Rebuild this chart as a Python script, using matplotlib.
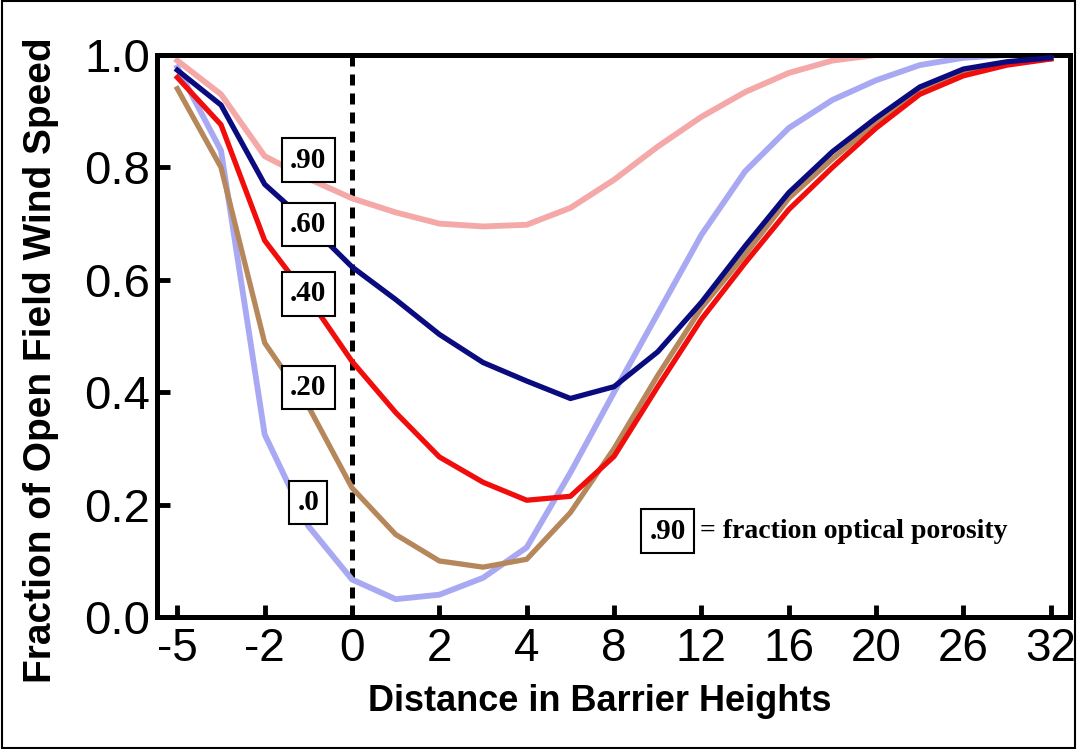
import numpy as np
import matplotlib
matplotlib.use("Agg")
import matplotlib.pyplot as plt
from matplotlib.patches import Rectangle

# distances (barrier heights) where the curves are sampled
distance = [-5, -3.5, -2, -1, 0, 1, 2, 3, 4, 6, 8, 10, 12, 14, 16, 18, 20, 23, 26, 29, 32]
tick_values = [-5, -2, 0, 2, 4, 8, 12, 16, 20, 26, 32]
tick_labels = ["-5", "-2", "0", "2", "4", "8", "12", "16", "20", "26", "32"]

# fraction of open field wind speed, one list per optical porosity
por_90 = [0.99, 0.93, 0.82, 0.78, 0.745, 0.72, 0.70, 0.695, 0.698, 0.728, 0.778,
          0.837, 0.89, 0.934, 0.968, 0.99, 1.0, 1.0, 1.0, 1.0, 1.0]
por_60 = [0.973, 0.911, 0.77, 0.70, 0.623, 0.565, 0.503, 0.453, 0.42, 0.389, 0.41,
          0.472, 0.56, 0.66, 0.755, 0.828, 0.888, 0.943, 0.975, 0.988, 0.995]
por_40 = [0.96, 0.876, 0.67, 0.568, 0.455, 0.364, 0.285, 0.24, 0.208, 0.215, 0.286,
          0.41, 0.53, 0.63, 0.725, 0.80, 0.87, 0.93, 0.963, 0.982, 0.993]
por_20 = [0.94, 0.80, 0.488, 0.375, 0.23, 0.147, 0.10, 0.089, 0.103, 0.186, 0.30,
          0.43, 0.55, 0.645, 0.745, 0.815, 0.88, 0.94, 0.97, 0.985, 0.993]
por_00 = [0.978, 0.83, 0.325, 0.162, 0.067, 0.032, 0.04, 0.07, 0.124, 0.257, 0.40,
          0.54, 0.68, 0.793, 0.87, 0.92, 0.955, 0.982, 0.995, 1.0, 1.0]

box_labels = [".90", ".60", ".40", ".20", ".0"]
box_y = [0.813, 0.698, 0.575, 0.409, 0.204]

# the x axis is not linear: each labelled distance gets one equal step
tick_pos = np.arange(len(tick_values))
xpos = np.interp(distance, tick_values, tick_pos)

fig = plt.figure(figsize=(10.77, 7.49), dpi=100)
ax = fig.add_axes([0.146, 0.176, 0.8475, 0.7506])

ax.plot(xpos, por_00, color="#a9a9f3", lw=4.2, solid_joinstyle="round", zorder=2)
ax.plot(xpos, por_90, color="#f5a8a8", lw=4.2, solid_joinstyle="round", zorder=2)
ax.plot(xpos, por_20, color="#b5875b", lw=3.8, solid_joinstyle="round", zorder=3)
ax.plot(xpos, por_40, color="#f20d0d", lw=3.8, solid_joinstyle="round", zorder=3)
ax.plot(xpos, por_60, color="#0b0b80", lw=3.8, solid_joinstyle="round", zorder=4)

# barrier position
ax.axvline(np.interp(0, tick_values, tick_pos), color="black", lw=3.6,
           linestyle=(0, (2.2, 1.6)), zorder=1)

serif = ["Liberation Serif", "DejaVu Serif"]
box_x = np.interp(-1, tick_values, tick_pos)
for lab, yy in zip(box_labels, box_y):
    ax.text(box_x, yy, lab, ha="center", va="center", fontsize=21, fontweight="bold",
            family=serif, zorder=6,
            bbox=dict(boxstyle="square,pad=0.28", fc="white", ec="black", lw=1.5))

ax.text(0.559, 0.153, ".90", transform=ax.transAxes, ha="center", va="center",
        fontsize=21, fontweight="bold", family=serif, zorder=6,
        bbox=dict(boxstyle="square,pad=0.28", fc="white", ec="black", lw=1.5))
ax.text(0.595, 0.153, "= fraction optical porosity", transform=ax.transAxes,
        ha="left", va="center", fontsize=20, fontweight="bold", family=serif)

ax.set_xlim(-0.23, 10.22)
ax.set_ylim(0, 1.0)
ax.set_xticks(tick_pos)
ax.set_xticklabels(tick_labels, family=["Liberation Sans", "DejaVu Sans"], fontsize=33)
ax.set_yticks([0.0, 0.2, 0.4, 0.6, 0.8, 1.0])
ax.set_yticklabels(["0.0", "0.2", "0.4", "0.6", "0.8", "1.0"],
                   family=["Liberation Sans", "DejaVu Sans"], fontsize=34)
ax.tick_params(direction="in", length=9, width=3.5, pad=7)
ax.tick_params(axis="y", pad=5)

for s in ax.spines.values():
    s.set_linewidth(3.6)

ax.set_xlabel("Distance in Barrier Heights", fontsize=26, fontweight="bold",
              family=["Liberation Sans", "DejaVu Sans"])
ax.xaxis.set_label_coords(0.485, -0.118)
ax.set_ylabel("Fraction of Open Field Wind Speed", fontsize=28, fontweight="bold",
              family=["Liberation Sans", "DejaVu Sans"])
ax.yaxis.set_label_coords(-0.108, 0.457)

# thin frame round the whole picture
fig.patches.append(Rectangle((0.002, 0.002), 0.996, 0.996, transform=fig.transFigure,
                             fill=False, ec="black", lw=1.5))

fig.savefig("out.png", dpi=100)
